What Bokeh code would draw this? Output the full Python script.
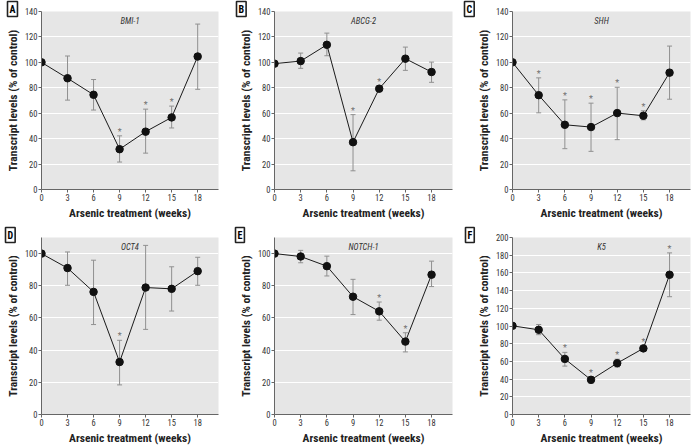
from bokeh.plotting import figure
from bokeh.models import ColumnDataSource, Whisker, TeeHead, Label, FixedTicker, Title
from bokeh.layouts import column, row
from bokeh.embed import file_html
from bokeh.resources import INLINE
from bokeh.core.properties import value

weeks = [0, 3, 6, 9, 12, 15, 18]

bmi1 = [100, 87.5, 74.5, 31.7, 45.5, 56.7, 104.6]
bmi1_hi = [None, 105.0, 86.5, 42.2, 63.2, 65.6, 130.1]
bmi1_lo = [None, 70.3, 62.5, 21.6, 28.6, 48.4, 78.8]
bmi1_sig = [0, 0, 0, 1, 1, 1, 0]

abcg2 = [99.0, 101.0, 113.8, 37.2, 79.3, 102.9, 92.4]
abcg2_hi = [None, 107.3, 123.0, 58.9, 81.5, 112.0, 100.2]
abcg2_lo = [None, 95.3, 105.2, 14.7, 77.0, 93.7, 84.3]
abcg2_sig = [0, 0, 0, 1, 1, 0, 0]

shh = [100, 74.2, 50.9, 49.1, 60.1, 58.0, 91.9]
shh_hi = [None, 87.8, 70.5, 67.9, 80.4, 61.9, 112.8]
shh_lo = [None, 60.3, 32.1, 30.0, 39.2, 54.8, 71.0]
shh_sig = [0, 1, 1, 1, 1, 1, 0]

oct4 = [100, 91.0, 76.2, 32.6, 78.9, 78.1, 89.1]
oct4_hi = [None, 101.0, 95.9, 46.1, 105.1, 91.8, 97.7]
oct4_lo = [None, 80.3, 55.9, 18.4, 52.9, 64.3, 80.3]
oct4_sig = [0, 0, 0, 1, 0, 0, 0]

notch1 = [100, 98.2, 92.2, 73.2, 64.1, 45.3, 86.9]
notch1_hi = [None, 102.0, 98.4, 84.0, 69.9, 50.8, 95.3]
notch1_lo = [None, 94.3, 86.1, 62.1, 58.6, 38.9, 79.5]
notch1_sig = [0, 0, 0, 0, 1, 1, 0]

k5 = [100.2, 95.7, 62.8, 39.2, 58.0, 74.7, 157.9]
k5_hi = [None, 101.7, 70.2, 42.9, 62.5, 77.0, 182.6]
k5_lo = [None, 90.2, 54.7, 35.1, 53.6, 72.5, 133.1]
k5_sig = [0, 0, 1, 1, 1, 1, 1]

FONT = "Liberation Sans Narrow, Roboto Condensed, Arial Narrow, Roboto, sans-serif"
X_LABEL = "Arsenic treatment (weeks)"
Y_LABEL = "Transcript levels (% of control)"


def panel(letter, gene, vals, hi, lo, sig, ymax, ystep, width, height,
          bl, br, bt, bb, box_dx):
    p = figure(width=width, height=height, x_range=(0, 20.4), y_range=(0, ymax),
               output_backend="svg", toolbar_location=None,
               min_border_left=bl, min_border_right=br,
               min_border_top=bt, min_border_bottom=bb)
    p.title = Title(text=letter, align="left", offset=box_dx, standoff=-10,
                    text_font=FONT, text_font_style="bold", text_font_size="10px",
                    text_color="black", background_fill_color="white",
                    border_line_color="#222222", border_line_width=1.6, padding=2)
    p.background_fill_color = "#e6e6e6"
    p.border_fill_color = "white"
    p.outline_line_color = None
    p.xgrid.visible = False
    yt = list(range(0, int(ymax) + 1, ystep))
    p.yaxis.ticker = FixedTicker(ticks=yt)
    p.xaxis.ticker = FixedTicker(ticks=weeks)
    p.ygrid.ticker = FixedTicker(ticks=yt[1:])
    p.ygrid.grid_line_color = "white"
    p.ygrid.grid_line_width = 1
    for ax in (p.xaxis[0], p.yaxis[0]):
        ax.axis_line_color = "#666666"
        ax.major_tick_line_color = "#666666"
        ax.minor_tick_line_color = None
        ax.major_tick_out = 3
        ax.major_tick_in = 0
        ax.major_label_text_font = FONT
        ax.major_label_text_font_size = "8.5px"
        ax.major_label_text_color = "#333333"
        ax.axis_label_text_font = FONT
        ax.axis_label_text_font_style = "bold"
        ax.axis_label_text_font_size = "11.5px"
        ax.axis_label_text_color = "#222222"
        ax.major_label_standoff = 1
        ax.axis_label_standoff = 2
    p.xaxis.axis_label = X_LABEL
    p.yaxis.axis_label = Y_LABEL

    ex = [w for w, h in zip(weeks, hi) if h is not None]
    eh = [h for h in hi if h is not None]
    el = [l for l in lo if l is not None]
    esrc = ColumnDataSource(dict(x=ex, hi=eh, lo=el))
    p.add_layout(Whisker(source=esrc, base="x", upper="hi", lower="lo",
                         line_color="#909090", line_width=1,
                         upper_head=TeeHead(size=5, line_color="#909090", line_width=1),
                         lower_head=TeeHead(size=5, line_color="#909090", line_width=1)))

    src = ColumnDataSource(dict(x=weeks, y=vals))
    p.line("x", "y", source=src, line_color="#1a1a1a", line_width=1)
    p.scatter("x", "y", source=src, size=7.5, fill_color="#111111", line_color="#111111")

    sx = [w for w, s in zip(weeks, sig) if s]
    sy = [(h if h is not None else v) for w, s, h, v in zip(weeks, sig, hi, vals) if s]
    p.text(x=sx, y=sy, text=["*"] * len(sx), text_align="center", text_baseline="middle",
           y_offset=-4, text_font=value(FONT), text_font_size="9px", text_color="#707070")

    p.add_layout(Label(x=10.2, y=ymax, x_offset=0, y_offset=-9,
                       text=gene, text_align="center", text_baseline="middle",
                       text_font=FONT, text_font_style="italic", text_font_size="8.5px",
                       text_color="#333333"))
    return p


a = panel("A", "BMI-1", bmi1, bmi1_hi, bmi1_lo, bmi1_sig, 140, 20, 232, 225, 41, 14, 11, 36, -34)
b = panel("B", "ABCG-2", abcg2, abcg2_hi, abcg2_lo, abcg2_sig, 140, 20, 230, 225, 42, 10, 11, 36, -38)
c = panel("C", "SHH", shh, shh_hi, shh_lo, shh_sig, 140, 20, 234, 225, 50, 6, 11, 36, -48)
d = panel("D", "OCT4", oct4, oct4_hi, oct4_lo, oct4_sig, 110, 20, 232, 222, 41, 14, 12, 33, -36)
e = panel("E", "NOTCH-1", notch1, notch1_hi, notch1_lo, notch1_sig, 110, 20, 230, 222, 42, 10, 12, 33, -39)
f = panel("F", "K5", k5, k5_hi, k5_lo, k5_sig, 200, 20, 234, 222, 50, 6, 12, 33, -47)

layout = column(row(a, b, c), row(d, e, f))
open("out.html", "w").write(file_html(layout, INLINE))
